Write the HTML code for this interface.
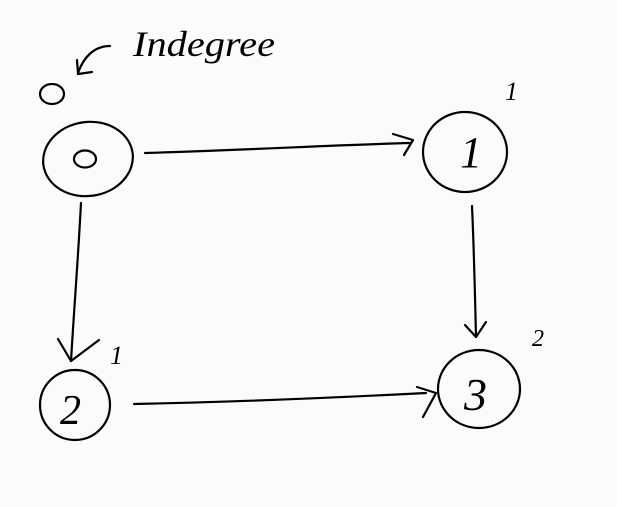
<!DOCTYPE html>
<html><head><meta charset="utf-8"><style>
html,body{margin:0;padding:0;background:#fbfbfb;}
svg{display:block}
text{font-family:"Liberation Serif",serif;fill:#000;font-style:italic}
</style></head><body>
<svg width="617" height="507" viewBox="0 0 617 507" xmlns="http://www.w3.org/2000/svg">
<rect width="617" height="507" fill="#fbfbfb"/>
<g fill="none" stroke="#000" stroke-width="2.2" stroke-linecap="round" stroke-linejoin="round">
<ellipse cx="88" cy="159" rx="45" ry="37" transform="rotate(-8 88 159)"/>
<ellipse cx="85" cy="159" rx="11" ry="8.5"/>
<ellipse cx="52" cy="94" rx="12" ry="10"/>
<ellipse cx="465" cy="152" rx="42" ry="40"/>
<ellipse cx="75" cy="405" rx="35" ry="35"/>
<ellipse cx="479" cy="389" rx="41" ry="39"/>
<path d="M145,153 C250,150 330,145 410,143"/>
<path d="M393,134 L413,140 L404,155"/>
<path d="M472,206 C474,250 475,295 476,337"/>
<path d="M465,325 L476,337 L486,322"/>
<path d="M81,203 C78,260 74,310 71,361"/>
<path d="M58,339 L71,361 L99,340"/>
<path d="M134,404 C230,402 330,398 426,393"/>
<path d="M417,387 L436,393 L423,417"/>
<path d="M110,46 C95,46 84,56 78,73"/>
<path d="M77,60 L78,74 L92,72"/>
</g>
<text x="133" y="56" font-size="36" textLength="142" lengthAdjust="spacingAndGlyphs">Indegree</text>
<text x="460" y="167" font-size="44">1</text>
<text x="60" y="424" font-size="42">2</text>
<text x="464" y="410" font-size="46">3</text>
<text x="505" y="100" font-size="26">1</text>
<text x="110" y="364" font-size="26">1</text>
<text x="532" y="346" font-size="24">2</text>
</svg>
</body></html>
